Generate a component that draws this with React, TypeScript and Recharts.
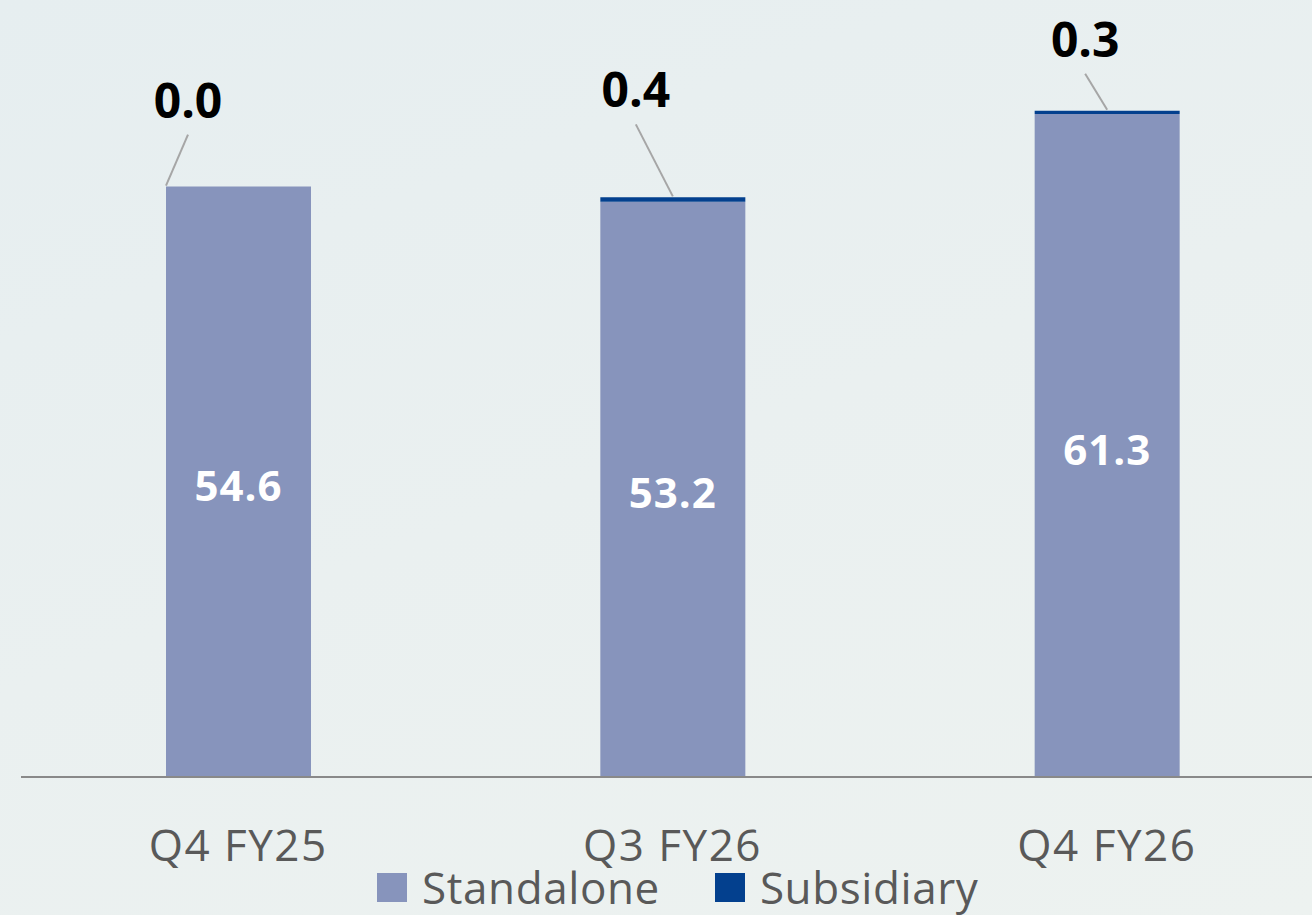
import { Bar, BarChart, LabelList, Legend, XAxis, YAxis } from "recharts";

const quarters = ["Q4 FY25", "Q3 FY26", "Q4 FY26"];
const standalone = [54.6, 53.2, 61.3];
const subsidiary = [0.0, 0.4, 0.3];

const data = quarters.map((q, i) => ({
  quarter: q,
  standalone: standalone[i],
  subsidiary: subsidiary[i],
}));

const FONT = "'Open Sans', 'Noto Sans', sans-serif";
const STANDALONE_COLOR = "#8794bc";
const SUBSIDIARY_COLOR = "#03408e";

// where the leader line leaves the stack top (fraction of bar width),
// and where the value text sits relative to that point
const callouts = [
  { at: 0, dx: 22, dy: -69 },
  { at: 0.5, dx: -37, dy: -90 },
  { at: 0.5, dx: -22, dy: -54 },
];

// drawn on the standalone bar so the zero-height subsidiary still gets its callout
function StackLabels(props: any) {
  const { x, y, width, height, value, index } = props;
  const bx = Number(x);
  const by = Number(y);
  const bw = Number(width);
  const bh = Number(height);
  const pxPerUnit = bh / Number(value);
  const sub = subsidiary[index] ?? 0;
  const c = callouts[index] ?? { at: 0.5, dx: 0, dy: -50 };
  const ax = bx + bw * c.at;
  const ay = by - sub * pxPerUnit;
  const tx = ax + c.dx;
  const ty = ay + c.dy;
  return (
    <g>
      <text
        x={bx + bw / 2}
        y={by + bh / 2 + 19}
        textAnchor="middle"
        fontFamily={FONT}
        fontWeight={700}
        fontSize={42}
        letterSpacing={1}
        fill="#fff"
      >
        {Number(value).toFixed(1)}
      </text>
      <line x1={ax} y1={ay - 1} x2={tx} y2={ty + 17} stroke="#a6a6a6" strokeWidth={2} />
      <text
        x={tx}
        y={ty}
        textAnchor="middle"
        fontFamily={FONT}
        fontWeight={700}
        fontSize={48}
        fill="#000"
      >
        {sub.toFixed(1)}
      </text>
    </g>
  );
}

function LegendContent() {
  const items = [
    { name: "Standalone", color: STANDALONE_COLOR },
    { name: "Subsidiary", color: SUBSIDIARY_COLOR },
  ];
  return (
    <div style={{ display: "flex", alignItems: "center", gap: 55 }}>
      {items.map((it) => (
        <div key={it.name} style={{ display: "flex", alignItems: "center" }}>
          <span
            style={{
              display: "inline-block",
              width: 30,
              height: 29,
              background: it.color,
              marginRight: 15,
            }}
          />
          <span
            style={{
              fontFamily: FONT,
              fontSize: 44,
              color: "#595959",
              letterSpacing: 0.6,
              lineHeight: "46px",
            }}
          >
            {it.name}
          </span>
        </div>
      ))}
    </div>
  );
}

export default function App() {
  return (
    <div
      style={{
        position: "absolute",
        left: 0,
        top: 0,
        width: 1312,
        height: 915,
        overflow: "hidden",
        background: "linear-gradient(160deg, #e6eef0 0%, #eaf0f0 50%, #edf2f0 100%)",
      }}
    >
      <BarChart
        width={1324}
        height={915}
        data={data}
        margin={{ top: 20, right: 0, bottom: 0, left: 21 }}
        barSize={145}
      >
        <YAxis hide domain={[0, 70]} />
        <XAxis
          dataKey="quarter"
          axisLine={{ stroke: "#898989", strokeWidth: 2 }}
          tickLine={false}
          height={138}
          tick={{
            fontSize: 44,
            fontFamily: FONT,
            fill: "#595959",
            letterSpacing: 1.5,
            dy: 45,
          }}
        />
        <Legend
          verticalAlign="middle"
          align="center"
          content={<LegendContent />}
          wrapperStyle={{ top: 864, left: 377, width: "auto" }}
        />
        <Bar
          dataKey="standalone"
          stackId="a"
          fill={STANDALONE_COLOR}
          isAnimationActive={false}
        >
          <LabelList dataKey="standalone" content={<StackLabels />} />
        </Bar>
        <Bar
          dataKey="subsidiary"
          stackId="a"
          fill={SUBSIDIARY_COLOR}
          isAnimationActive={false}
        />
      </BarChart>
    </div>
  );
}
